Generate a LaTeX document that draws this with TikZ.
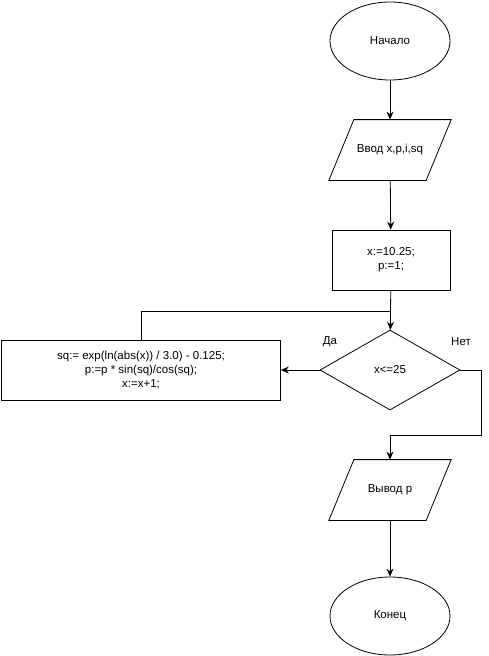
\documentclass[tikz,border=0pt]{standalone}
\usepackage{fontspec}
\setmainfont{Liberation Sans}
\usetikzlibrary{arrows.meta,shapes.geometric}

% parallelogram round a plain io node
\newcommand\ioframe[1]{%
  \draw ([xshift=-12.5pt]#1.south west) -- ([xshift=12.5pt]#1.north west)
    -- ([xshift=12.5pt]#1.north east) -- ([xshift=-12.5pt]#1.south east) -- cycle;}

\begin{document}
\begin{tikzpicture}[x=1pt, y=-1pt,
  every node/.style={font=\fontsize{11.5}{14}\selectfont},
  term/.style={draw, ellipse, minimum width=120pt, minimum height=78pt, inner sep=0pt},
  io/.style={rectangle, minimum width=96.5pt, minimum height=60pt, inner sep=0pt},
  proc/.style={draw, rectangle, align=center, minimum height=60pt, inner sep=0pt},
  cond/.style={draw, diamond, minimum width=140pt, minimum height=80pt, inner sep=0pt},
  lab/.style={inner sep=0pt},
  flow/.style={-{Stealth[length=8pt,width=7pt]}}
]
\useasboundingbox (0,0) rectangle (489,656);
\tikzset{every path/.style={line width=0.8pt}}

\def\xM{390}
\def\xL{141}

\node[term] (start) at (\xM, 41) {Начало};
\node[io] (inp) at (\xM, 150) {Ввод x,p,i,sq};
\node[proc, minimum width=118pt] (init) at (391, 260) {x:=10.25;\\p:=1;};
\node[cond] (test) at (\xM, 370) {x<=25};
\node[proc, minimum width=279pt] (body) at (\xL, 370)
  {sq:= exp(ln(abs(x)) / 3.0) - 0.125;\\p:=p * sin(sq)/cos(sq);\\x:=x+1;};
\node[io] (outp) at (\xM, 490) {Вывод p};
\node[term] (stop) at (\xM, 616) {Конец};

\ioframe{inp}
\ioframe{outp}

\node[lab] (yes) at (330, 342) {Да};
\node[lab] (no) at (461, 342) {Нет};

\coordinate (join) at (\xM, 311);
\coordinate (bend) at (481, 435);

\draw[flow] (start) -- (inp);
\draw[flow] (inp) -- (init);
\draw[flow] (init) -- (test);
\draw (body.north) |- (join);
\draw[flow] (test.west) -- (body.east);
\draw[flow] (test.east) -| (bend) -| (outp.north);
\draw[flow] (outp) -- (stop);

\end{tikzpicture}
\end{document}
